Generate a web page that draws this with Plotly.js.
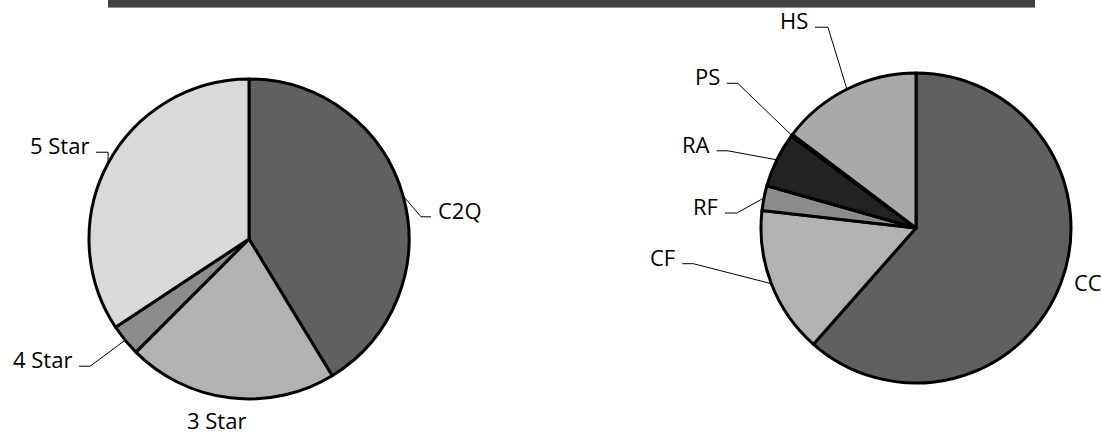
<!DOCTYPE html>
<html>
<head>
<meta charset="utf-8">
<script src="https://cdn.plot.ly/plotly-3.0.1.min.js"></script>
<style>html,body{margin:0;padding:0;background:#fff;}#chart{width:1101px;height:435px;}</style>
</head>
<body>
<div id="chart"></div>
<script>
// ---- data ----
const leftLabels = ["C2Q", "3 Star", "4 Star", "5 Star"];
const leftValues = [41.3, 21.2, 3.2, 34.3];
const leftColors = ["#606060", "#b2b2b2", "#8c8c8c", "#d9d9d9"];

const rightLabels = ["CC", "CF", "RF", "RA", "PS", "HS"];
const rightValues = [61.5, 15.3, 2.6, 5.7, 0.2, 14.7];
const rightColors = ["#606060", "#b2b2b2", "#8c8c8c", "#222222", "#3a3a3a", "#a9a9a9"];

// ---- layout of labels (pixel offsets from slice edge midpoint) ----
// ex,ey: elbow offset; hl: horizontal run; lead=false: no leader line (tx,ty text offset)
const leftLabelPos = [
  {ex: 18, ey: 21, hl: 10},
  {lead: false, tx: -13, ty: 22},
  {ex: -35, ey: 26, hl: -11},
  {ex: 0, ey: -11, hl: -12}
];
const rightLabelPos = [
  {lead: false, tx: 11, ty: -1, anchor: "left"},
  {ex: -78, ey: -20, hl: -11},
  {ex: -27, ey: 15, hl: -12},
  {ex: -49, ey: -9, hl: -11},
  {ex: -54, ey: -52, hl: -11},
  {ex: -19, ey: -62, hl: -13}
];

const W = 1101, H = 435;
const leftDomain = {x: [89 / W, 409 / W], y: [36 / H, 356 / H]};
const rightDomain = {x: [761 / W, 1071 / W], y: [52 / H, 362 / H]};
const FONT = {family: "Open Sans, Noto Sans, sans-serif", size: 22, color: "#000000"};

function pieTrace(labels, values, colors, domain) {
  return {
    type: "pie", labels: labels, values: values, sort: false,
    direction: "clockwise", rotation: 0, domain: domain,
    marker: {colors: colors, line: {color: "#000000", width: 3}},
    textinfo: "none", hoverinfo: "label+percent", showlegend: false
  };
}

const shapes = [];
const annotations = [];
const px = x => x / W;
const py = y => 1 - y / H;

function addLabels(labels, values, domain, pos) {
  const cx = (domain.x[0] + domain.x[1]) / 2 * W;
  const cy = (1 - (domain.y[0] + domain.y[1]) / 2) * H;
  const r = (domain.x[1] - domain.x[0]) * W / 2;
  const total = values.reduce((a, b) => a + b, 0);
  let cum = 0;
  values.forEach((v, i) => {
    const a = (cum + v / 2) / total * 2 * Math.PI;
    cum += v;
    const ax = cx + r * Math.sin(a), ay = cy - r * Math.cos(a);
    const p = pos[i];
    if (p.lead === false) {
      annotations.push({
        xref: "paper", yref: "paper", x: px(ax + p.tx), y: py(ay + p.ty),
        xanchor: p.anchor || "center", yanchor: "middle", showarrow: false,
        text: labels[i], font: FONT
      });
      return;
    }
    const exx = ax + p.ex, eyy = ay + p.ey, hx = exx + p.hl;
    const lineStyle = {color: "#000000", width: 1};
    shapes.push({type: "line", xref: "paper", yref: "paper", x0: px(ax), y0: py(ay), x1: px(exx), y1: py(eyy), line: lineStyle});
    shapes.push({type: "line", xref: "paper", yref: "paper", x0: px(exx), y0: py(eyy), x1: px(hx), y1: py(eyy), line: lineStyle});
    const right = p.hl < 0;
    annotations.push({
      xref: "paper", yref: "paper", x: px(hx + (right ? -5 : 5)), y: py(eyy - 7),
      xanchor: right ? "right" : "left", yanchor: "middle", showarrow: false,
      text: labels[i], font: FONT
    });
  });
}

addLabels(leftLabels, leftValues, leftDomain, leftLabelPos);
addLabels(rightLabels, rightValues, rightDomain, rightLabelPos);

// top band
shapes.unshift({type: "rect", xref: "paper", yref: "paper", x0: px(108), x1: px(1035), y0: py(7), y1: py(0), fillcolor: "#404040", line: {width: 0}, layer: "below"});
shapes.unshift({type: "line", xref: "paper", yref: "paper", x0: px(108), x1: px(1035), y0: py(7.5), y1: py(7.5), line: {color: "#8f8f8f", width: 1}, layer: "below"});

const layout = {
  width: W, height: H, margin: {l: 0, r: 0, t: 0, b: 0},
  paper_bgcolor: "#ffffff", plot_bgcolor: "#ffffff",
  shapes: shapes, annotations: annotations, showlegend: false
};

Plotly.newPlot("chart", [
  pieTrace(leftLabels, leftValues, leftColors, leftDomain),
  pieTrace(rightLabels, rightValues, rightColors, rightDomain)
], layout, {displayModeBar: false, staticPlot: true});
</script>
</body>
</html>
